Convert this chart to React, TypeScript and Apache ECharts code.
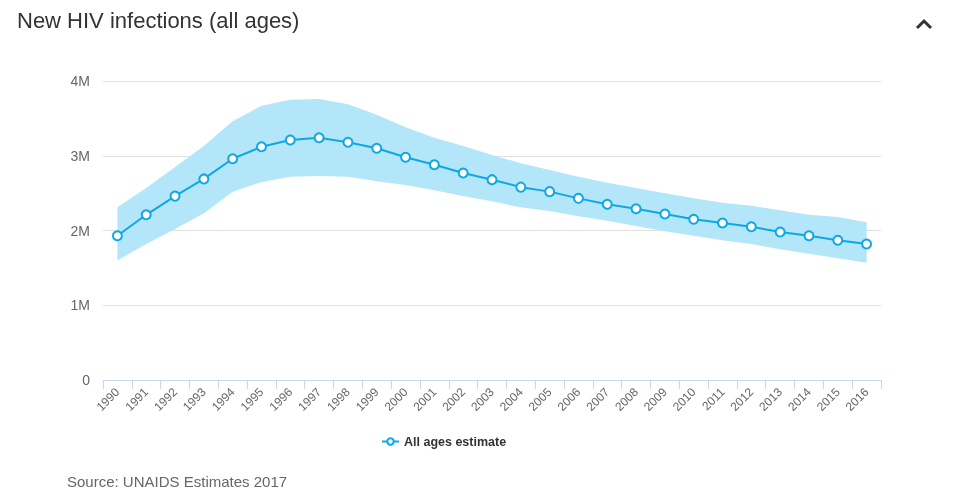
import React, { useEffect, useRef } from "react";
import * as echarts from "echarts";

const years = ["1990","1991","1992","1993","1994","1995","1996","1997","1998","1999","2000","2001","2002","2003","2004","2005","2006","2007","2008","2009","2010","2011","2012","2013","2014","2015","2016"];
const estimate = [1.93,2.21,2.46,2.69,2.96,3.12,3.21,3.24,3.18,3.10,2.98,2.88,2.77,2.68,2.58,2.52,2.43,2.35,2.29,2.22,2.15,2.10,2.05,1.98,1.93,1.87,1.82].map(v => v * 1e6);
const upper = [2.31,2.57,2.85,3.13,3.46,3.67,3.75,3.76,3.69,3.55,3.38,3.24,3.13,3.01,2.90,2.81,2.72,2.64,2.57,2.50,2.43,2.37,2.33,2.27,2.21,2.18,2.11].map(v => v * 1e6);
const lower = [1.60,1.82,2.02,2.23,2.52,2.65,2.72,2.73,2.72,2.66,2.61,2.54,2.46,2.39,2.31,2.26,2.19,2.13,2.06,1.99,1.93,1.87,1.82,1.75,1.69,1.63,1.57].map(v => v * 1e6);
const yTicks = ["0", "1M", "2M", "3M", "4M"];

export default function App() {
  const ref = useRef<HTMLDivElement>(null);
  useEffect(() => {
    if (!ref.current) return;
    const chart = echarts.init(ref.current, null, { renderer: "svg" });
    const font = "Arial, 'Liberation Sans', Helvetica, sans-serif";
    const bandDiff = upper.map((u, i) => u - lower[i]);
    chart.setOption({
      animation: false,
      textStyle: { fontFamily: font },
      title: {
        text: "New HIV infections (all ages)",
        left: 12,
        top: 4,
        textStyle: { fontSize: 22, fontWeight: "normal", color: "#333", fontFamily: font },
      },
      graphic: [
        {
          type: "polyline",
          shape: { points: [[917, 28], [924, 21], [931, 28]] },
          style: { stroke: "#333", lineWidth: 3, fill: null },
        },
        {
          type: "text",
          left: 67,
          top: 474,
          style: { text: "Source: UNAIDS Estimates 2017", fontSize: 15, fill: "#666", fontFamily: font },
        },
      ],
      legend: {
        data: ["All ages estimate"],
        left: 376,
        top: 430,
        itemWidth: 17,
        itemHeight: 8,
        itemGap: 6,
        textStyle: { fontSize: 12.5, fontWeight: "bold", color: "#333", fontFamily: font },
      },
      grid: { left: 103, right: 80, top: 81, bottom: 112, containLabel: false },
      xAxis: {
        type: "category",
        data: years,
        boundaryGap: true,
        axisLine: { lineStyle: { color: "#ccd6eb" } },
        axisTick: { show: true, length: 9, lineStyle: { color: "#ccd6eb" } },
        axisLabel: { rotate: 45, fontSize: 12, color: "#666", margin: 10, interval: 0 },
        splitLine: { show: false },
      },
      yAxis: {
        type: "value",
        min: 0,
        max: 4e6,
        interval: 1e6,
        axisLine: { show: false },
        axisTick: { show: false },
        axisLabel: {
          fontSize: 14,
          color: "#666",
          margin: 13,
          formatter: (v: number) => yTicks[Math.round(v / 1e6)] ?? "",
        },
        splitLine: { lineStyle: { color: "#e0e0e0" } },
      },
      series: [
        {
          name: "lower",
          type: "line",
          data: lower,
          stack: "band",
          symbol: "none",
          lineStyle: { opacity: 0 },
          silent: true,
        },
        {
          name: "band",
          type: "line",
          data: bandDiff,
          stack: "band",
          symbol: "none",
          lineStyle: { opacity: 0 },
          areaStyle: { color: "#b3e6f8", opacity: 1 },
          silent: true,
        },
        {
          name: "All ages estimate",
          type: "line",
          data: estimate,
          symbol: "circle",
          symbolSize: 9,
          itemStyle: { color: "#fff", borderColor: "#0ea8e4", borderWidth: 2 },
          lineStyle: { color: "#0ea8e4", width: 2 },
          z: 5,
        },
      ],
    });
    return () => chart.dispose();
  }, []);
  return <div ref={ref} style={{ position: "fixed", left: 0, top: 0, width: 961, height: 492 }} />;
}
